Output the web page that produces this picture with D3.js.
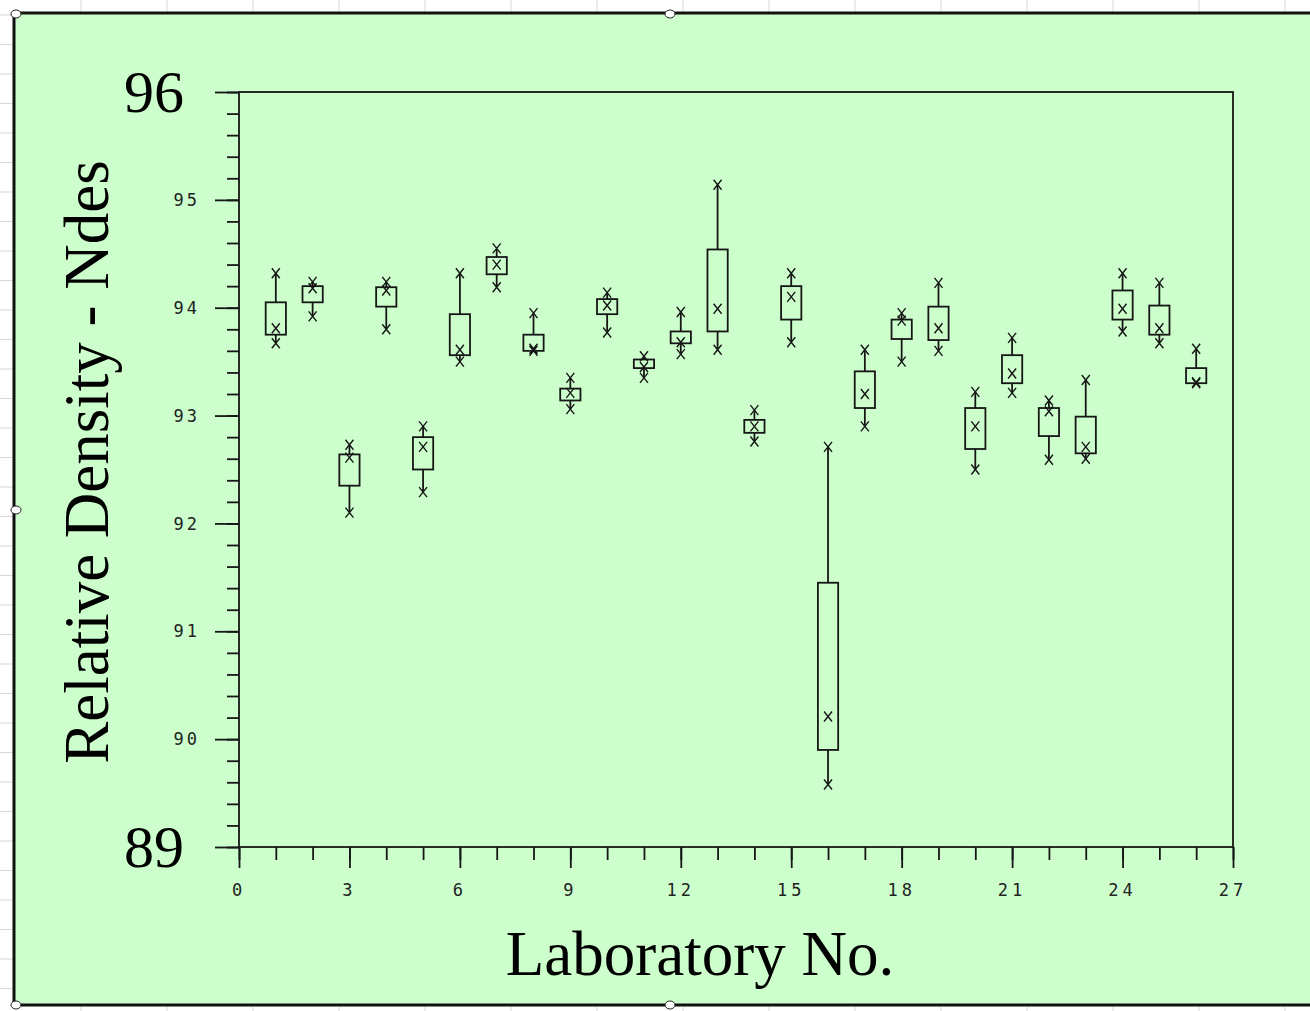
<!DOCTYPE html>
<html>
<head>
<meta charset="utf-8">
<script src="https://cdn.jsdelivr.net/npm/d3@7"></script>
<style>
  body { margin: 0; background: #fff; }
  svg { display: block; }
</style>
</head>
<body>
<div id="chart"></div>
<script>
// laboratory results
var labs  = [1, 2, 3, 4, 5, 6, 7, 8, 9, 10, 11, 12, 13, 14, 15, 16, 17, 18, 19, 20, 21, 22, 23, 24, 25, 26];
var boxHi = [94.05, 94.20, 92.64, 94.19, 92.80, 93.94, 94.47, 93.75, 93.25, 94.08, 93.52, 93.78, 94.54,
             92.96, 94.20, 91.45, 93.41, 93.89, 94.01, 93.07, 93.56, 93.07, 92.99, 94.16, 94.02, 93.44];
var boxLo = [93.75, 94.05, 92.35, 94.01, 92.50, 93.56, 94.31, 93.60, 93.14, 93.94, 93.44, 93.67, 93.78,
             92.84, 93.89, 89.90, 93.07, 93.71, 93.70, 92.69, 93.30, 92.81, 92.65, 93.89, 93.75, 93.30];
var maxV  = [94.32, 94.24, 92.73, 94.24, 92.90, 94.32, 94.55, 93.95, 93.35, 94.14, 93.55, 93.96, 95.14,
             93.05, 94.32, 92.71, 93.61, 93.95, 94.23, 93.22, 93.72, 93.14, 93.33, 94.32, 94.23, 93.62];
var minV  = [93.67, 93.92, 92.10, 93.80, 92.29, 93.50, 94.19, 93.60, 93.06, 93.77, 93.35, 93.57, 93.61,
             92.76, 93.68, 89.58, 92.90, 93.50, 93.60, 92.50, 93.21, 92.59, 92.60, 93.78, 93.67, 93.30];
var meanV = [93.81, 94.18, 92.61, 94.16, 92.71, 93.61, 94.40, 93.62, 93.21, 94.02, 93.45, 93.68, 93.99,
             92.90, 94.10, 90.21, 93.20, 93.88, 93.81, 92.90, 93.39, 93.04, 92.71, 93.99, 93.81, 93.31];

var xTicks = [0, 3, 6, 9, 12, 15, 18, 21, 24, 27];
var yTicks = [90, 91, 92, 93, 94, 95];

var W = 1310, H = 1011;
var svg = d3.select("#chart").append("svg")
    .attr("width", W).attr("height", H);

// excel sheet grid behind the chart object
var grid = svg.append("g").attr("stroke", "#d6d6d6").attr("stroke-width", 1);
d3.range(15, H, 29.5).forEach(function(gy) {
  grid.append("line").attr("x1", 0).attr("x2", 14).attr("y1", gy).attr("y2", gy);
});
d3.range(81, W, 86).forEach(function(gx) {
  grid.append("line").attr("x1", gx).attr("x2", gx).attr("y1", 0).attr("y2", 12);
  grid.append("line").attr("x1", gx).attr("x2", gx).attr("y1", 1007).attr("y2", H);
});

// chart area
svg.append("rect")
    .attr("x", 14).attr("y", 13).attr("width", W).attr("height", 992)
    .attr("fill", "#ccffcc");
svg.append("path")
    .attr("d", "M" + W + ",13 H14 V1005 H" + W)
    .attr("fill", "none").attr("stroke", "#111").attr("stroke-width", 3);

// selection handles
[[16, 14], [670, 14], [16, 510], [16, 1005], [670, 1005]].forEach(function(p) {
  svg.append("ellipse").attr("cx", p[0]).attr("cy", p[1]).attr("rx", 5).attr("ry", 4)
      .attr("fill", "#fff").attr("stroke", "#222").attr("stroke-width", 1);
});

var pL = 239, pR = 1233, pT = 92, pB = 847;
var x = d3.scaleLinear().domain([0, 27]).range([pL, pR]);
var y = d3.scaleLinear().domain([89, 96]).range([pB, pT]);

var ink = "#161616";

// y axis: major and minor ticks
var yMinor = svg.append("g").attr("transform", "translate(" + pL + ",0)")
    .call(d3.axisLeft(y).tickValues(d3.range(89, 96.001, 0.2)).tickSize(12).tickFormat(""));
var yMajor = svg.append("g").attr("transform", "translate(" + pL + ",0)")
    .call(d3.axisLeft(y).tickValues([89, 90, 91, 92, 93, 94, 95, 96]).tickSize(24).tickFormat(""));

// x axis
var xMinor = svg.append("g").attr("transform", "translate(0," + pB + ")")
    .call(d3.axisBottom(x).tickValues(d3.range(0, 28, 1)).tickSize(13).tickFormat(""));
var xMajor = svg.append("g").attr("transform", "translate(0," + pB + ")")
    .call(d3.axisBottom(x).tickValues(xTicks).tickSize(21).tickFormat(""));

[yMinor, yMajor, xMinor, xMajor].forEach(function(g) {
  g.select(".domain").remove();
  g.selectAll(".tick line").attr("stroke", ink).attr("stroke-width", 1.8);
});

// frame
svg.append("rect")
    .attr("x", pL).attr("y", pT).attr("width", pR - pL).attr("height", pB - pT)
    .attr("fill", "none").attr("stroke", ink).attr("stroke-width", 1.8);

// small tick labels
svg.append("g").selectAll("text").data(yTicks).enter().append("text")
    .attr("x", 200).attr("y", function(d) { return y(d); })
    .attr("dy", "0.36em")
    .attr("text-anchor", "end")
    .attr("font-family", "DejaVu Sans Mono")
    .attr("font-size", "17px")
    .attr("letter-spacing", "3px")
    .attr("fill", "#222")
    .text(function(d) { return d; });

svg.append("g").selectAll("text").data(xTicks).enter().append("text")
    .attr("x", function(d) { return x(d); }).attr("y", 896)
    .attr("text-anchor", "middle")
    .attr("font-family", "DejaVu Sans Mono")
    .attr("font-size", "17px")
    .attr("letter-spacing", "4px")
    .attr("fill", "#222")
    .text(function(d) { return d; });

// big end labels
[96, 89].forEach(function(v) {
  svg.append("text")
      .attr("x", 184).attr("y", y(v)).attr("dy", "0.34em")
      .attr("text-anchor", "end")
      .attr("font-family", "Liberation Serif")
      .attr("font-size", "60px")
      .text(v);
});

// axis titles
svg.append("text")
    .attr("transform", "translate(108,462) rotate(-90)")
    .attr("text-anchor", "middle")
    .attr("font-family", "Liberation Serif")
    .attr("font-size", "63px")
    .text("Relative Density - Ndes");

svg.append("text")
    .attr("x", 700).attr("y", 975)
    .attr("text-anchor", "middle")
    .attr("font-family", "Liberation Serif")
    .attr("font-size", "63px")
    .text("Laboratory No.");

// boxes
var rows = labs.map(function(l, i) {
  return {lab: l, hi: boxHi[i], lo: boxLo[i], max: maxV[i], min: minV[i], mean: meanV[i]};
});
var bw = x(0.55) - x(0);

var box = svg.append("g").selectAll("g").data(rows).enter().append("g")
    .attr("stroke", ink).attr("stroke-width", 1.8).attr("fill", "none");

box.append("line")
    .attr("x1", function(d) { return x(d.lab); }).attr("x2", function(d) { return x(d.lab); })
    .attr("y1", function(d) { return y(d.max); }).attr("y2", function(d) { return y(d.hi); });
box.append("line")
    .attr("x1", function(d) { return x(d.lab); }).attr("x2", function(d) { return x(d.lab); })
    .attr("y1", function(d) { return y(d.lo); }).attr("y2", function(d) { return y(d.min); });
box.append("rect")
    .attr("x", function(d) { return x(d.lab) - bw / 2; })
    .attr("y", function(d) { return y(d.hi); })
    .attr("width", bw)
    .attr("height", function(d) { return y(d.lo) - y(d.hi); });

// x markers at max, min and mean
function cross(cx, cy) {
  return "M" + (cx - 4) + "," + (cy - 5) + "L" + (cx + 4) + "," + (cy + 5) +
         "M" + (cx + 4) + "," + (cy - 5) + "L" + (cx - 4) + "," + (cy + 5);
}
box.append("path")
    .attr("stroke-width", 1.4)
    .attr("d", function(d) {
      var cx = x(d.lab);
      return cross(cx, y(d.max)) + cross(cx, y(d.min)) + cross(cx, y(d.mean));
    });
</script>
</body>
</html>
